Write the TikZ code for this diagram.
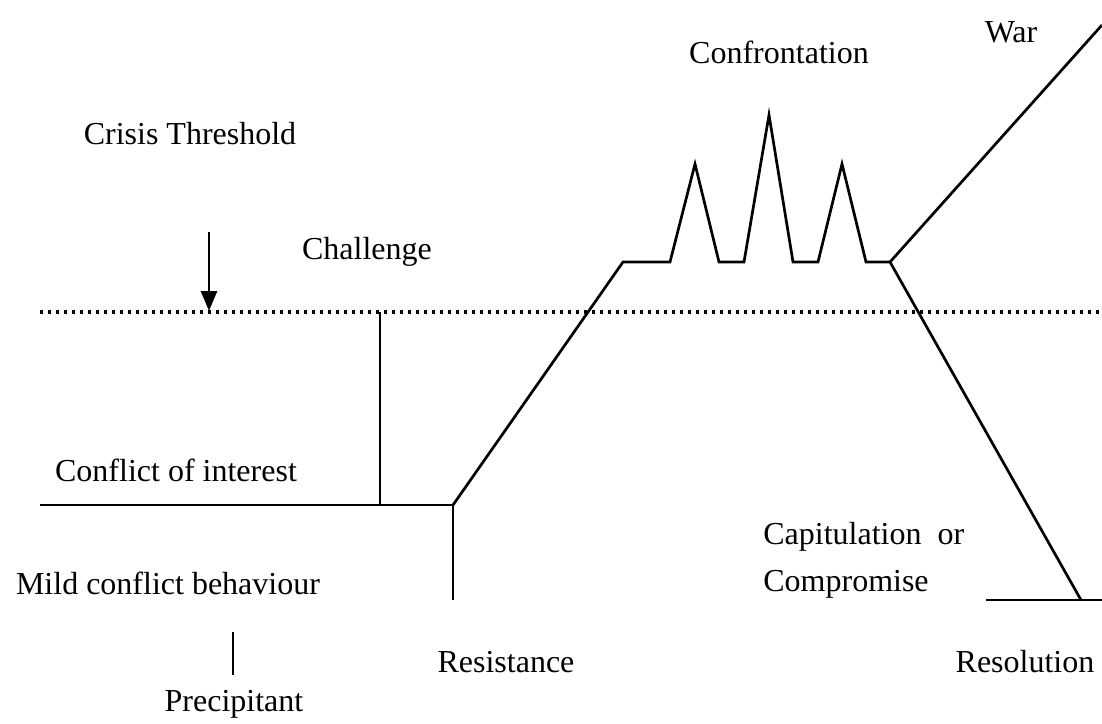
\documentclass[tikz,border=0pt]{standalone}
\usepackage{fontspec}
\setmainfont{Liberation Serif}
\usetikzlibrary{arrows.meta}
\begin{document}
\begin{tikzpicture}[x=0.5pt, y=-0.5pt, line width=1.35pt, >={Triangle[width=8pt,length=10pt]},
    lbl/.style={font=\fontsize{16}{19}\selectfont, inner sep=0pt},
    threshold/.style={line width=1.9pt, dash pattern=on 1.5pt off 2.5pt}]
        \useasboundingbox (0,0) rectangle (1102,723);

        % Punti del percorso
        \coordinate (L) at (40,505);
        \coordinate (C) at (380,505);
        \coordinate (R) at (453,505);
        \coordinate (Rb) at (453,600);
        \coordinate (P0) at (623,262);
        \coordinate (P1) at (670,262);
        \coordinate (T1) at (695,164);
        \coordinate (V1) at (719,262);
        \coordinate (V2) at (744,262);
        \coordinate (T2) at (769,115);
        \coordinate (V3) at (793,262);
        \coordinate (V4) at (818,262);
        \coordinate (T3) at (842,164);
        \coordinate (V5) at (866,262);
        \coordinate (F) at (890,262);
        \coordinate (W) at (1102,25);
        \coordinate (S) at (1081,600);
        \coordinate (Sl) at (986,600);
        \coordinate (Sr) at (1102,600);

        % Soglia di crisi
        \coordinate (D0) at (40,312);
        \coordinate (D1) at (1102,312);
        \coordinate (Dc) at (380,312);
        \draw[threshold] (D0) -- (D1);

        % Etichette
        \node[lbl] (crisis) at (190,134) {Crisis Threshold};
        \node[lbl] (chall) at (367,252) {Challenge};
        \node[lbl] (coi) at (176,470) {Conflict of interest};
        \node[lbl] (mild) at (168,583) {Mild conflict behaviour};
        \node[lbl] (prec) at (234,704) {Precipitant};
        \node[lbl] (resist) at (506,662) {Resistance};
        \node[lbl] (confr) at (779,52) {Confrontation};
        \node[lbl] (war) at (1011,32) {War};
        \node[lbl, anchor=west] (capit) at (762,537) {Capitulation\ \ or};
        \node[lbl, anchor=west] (compr) at (762,584) {Compromise};
        \node[lbl] (resol) at (1025,662) {Resolution};

        % Freccia della soglia
        \coordinate (A0) at (209,232);
        \coordinate (A1) at (209,311);
        \draw[->] (A0) -- (A1);

        % Tratto sotto il comportamento
        \coordinate (M0) at (233,632);
        \coordinate (M1) at (233,675);
        \draw (M0) -- (M1);

        % Percorso della crisi
        \draw (L) -- (R) -- (Rb);
        \draw (C) -- (Dc);
        \draw (R) -- (P0) -- (P1) -- (T1) -- (V1) -- (V2) -- (T2) -- (V3)
              -- (V4) -- (T3) -- (V5) -- (F);
        \draw (F) -- (W);
        \draw (F) -- (S);
        \draw (Sl) -- (Sr);

    \end{tikzpicture}
\end{document}
